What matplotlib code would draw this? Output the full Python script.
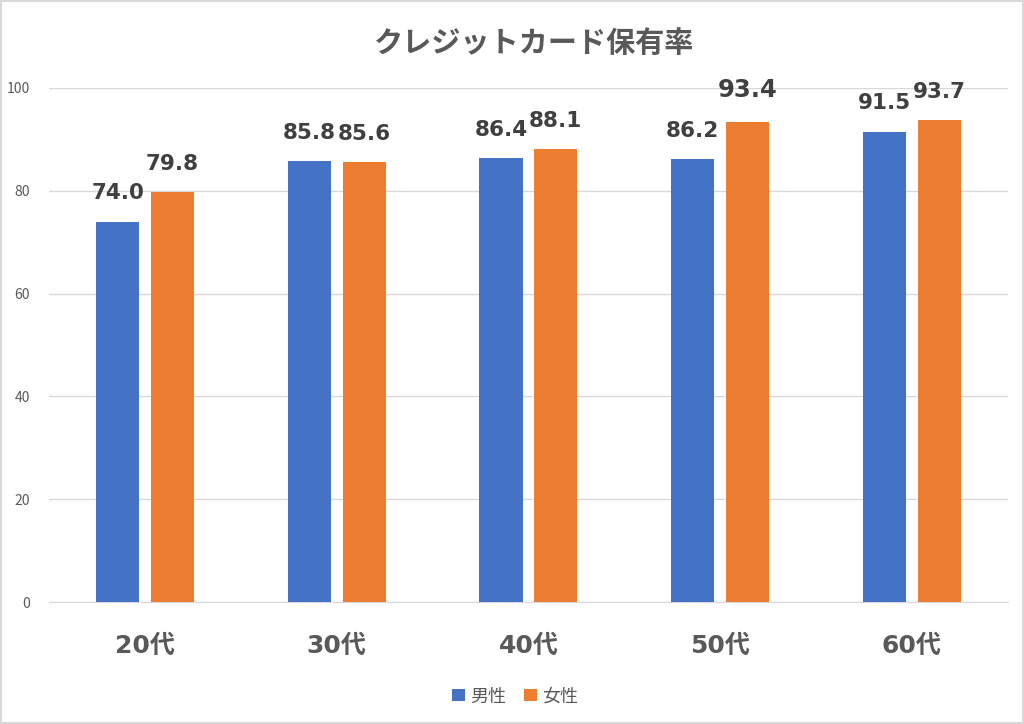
import matplotlib
matplotlib.use("Agg")
import matplotlib.pyplot as plt
import numpy as np
from matplotlib.patches import Rectangle

plt.rcParams["font.family"] = ["Noto Sans CJK JP", "DejaVu Sans"]

categories = ["20代", "30代", "40代", "50代", "60代"]
male = [74.0, 85.8, 86.4, 86.2, 91.5]
female = [79.8, 85.6, 88.1, 93.4, 93.7]
yticks = [0, 20, 40, 60, 80, 100]

blue = "#4472C4"
orange = "#ED7D31"
grid_c = "#D9D9D9"
text_c = "#595959"
label_c = "#404040"
num_font = ["DejaVu Sans", "Noto Sans CJK JP"]

fig = plt.figure(figsize=(10.24, 7.24), dpi=100)
ax = fig.add_axes([0.048, 0.1685, 0.936, 0.7100])

x = np.arange(len(categories))
w = 0.225
off = 0.143
b1 = ax.bar(x - off, male, w, color=blue, label="男性", zorder=3)
b2 = ax.bar(x + off, female, w, color=orange, label="女性", zorder=3)

for bars, vals, big in ((b1, male, None), (b2, female, 3)):
    for i, (r, v) in enumerate(zip(bars, vals)):
        # the 50代 female label is drawn a little larger in the original
        fs = 17.5 if i == big else 15.5
        ax.annotate(f"{v:.1f}", (r.get_x() + r.get_width() / 2, v),
                    xytext=(0, 16 if i != big else 18), textcoords="offset points",
                    ha="center", va="baseline", fontsize=fs, fontweight="bold",
                    family=num_font, color=label_c, annotation_clip=False, zorder=4)

ax.set_xlim(-0.5, len(categories) - 0.5)
ax.set_ylim(0, 100)
ax.set_yticks(yticks)
ax.set_yticklabels([str(t) for t in yticks], fontsize=10, color=text_c)
ax.set_xticks(x)
ax.set_xticklabels(categories, fontsize=18, fontweight="bold", color=text_c,
                   family=num_font)
ax.tick_params(axis="both", length=0)
ax.tick_params(axis="x", pad=23)
ax.tick_params(axis="y", pad=14)
ax.grid(axis="y", color=grid_c, linewidth=1, zorder=0)
for s in ("top", "right", "left"):
    ax.spines[s].set_visible(False)
ax.spines["bottom"].set_color(grid_c)

fig.text(0.5215, 0.94, "クレジットカード保有率", ha="center", va="center",
         fontsize=21, fontweight="bold", color=text_c)

fig.legend(handles=[b1, b2], loc="center", bbox_to_anchor=(0.503, 0.038),
           ncol=2, frameon=False, fontsize=13, handlelength=0.7,
           handleheight=0.7, handletextpad=0.3, columnspacing=1.0,
           labelcolor=text_c)

fig.patches.append(Rectangle((0.001, 0.001), 0.998, 0.998, transform=fig.transFigure,
                             fill=False, edgecolor=grid_c, linewidth=1.5))

fig.savefig("out.png", dpi=100)
